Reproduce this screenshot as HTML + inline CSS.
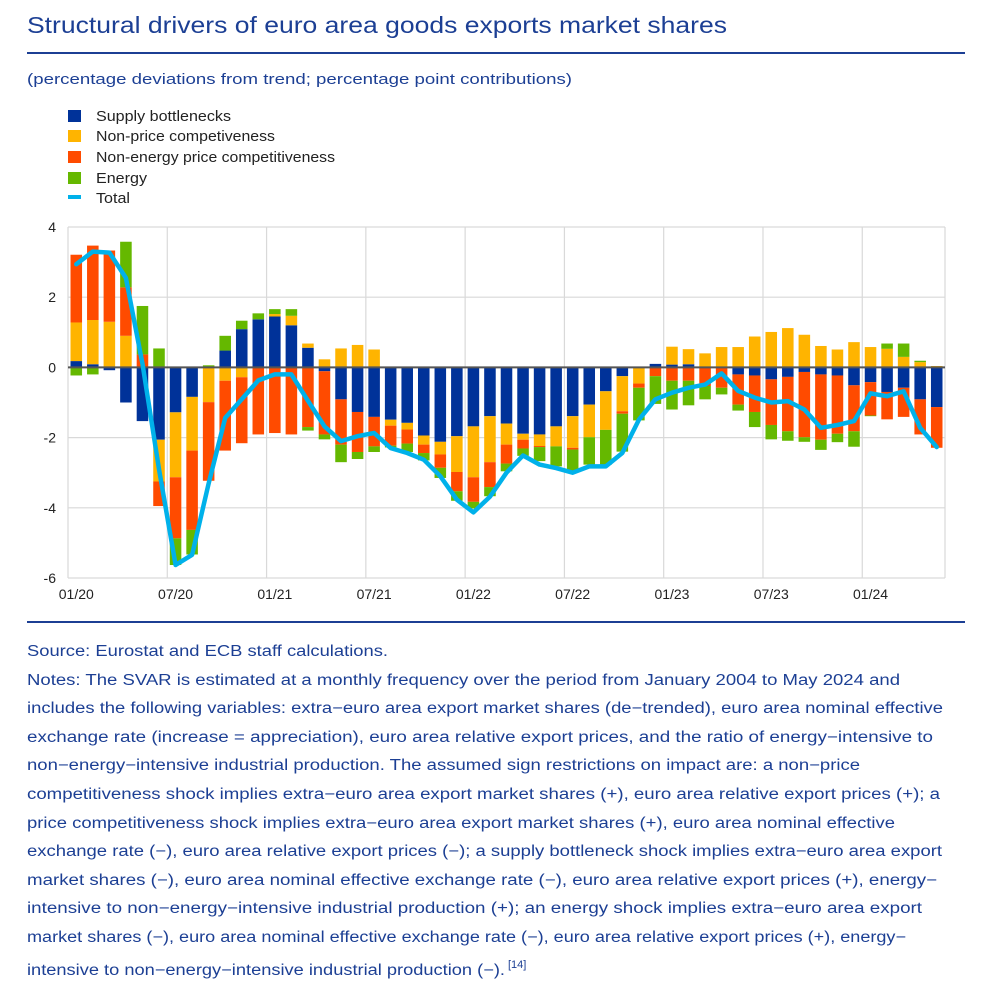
<!DOCTYPE html>
<html><head><meta charset="utf-8"><style>
html,body{margin:0;padding:0;background:#fff;width:1002px;height:1003px;overflow:hidden}
svg{display:block;font-family:"Liberation Sans",Arial,sans-serif}
</style></head><body>
<svg id="c" width="1002" height="1003" viewBox="0 0 1002 1003" xmlns="http://www.w3.org/2000/svg">
<text x="27" y="33" font-size="23" fill="#1c3f94" textLength="700" lengthAdjust="spacingAndGlyphs">Structural drivers of euro area goods exports market shares</text>
<rect x="27" y="52" width="938" height="2" fill="#1c3f94"/>
<text x="27" y="84" font-size="15" fill="#1c3f94" textLength="545" lengthAdjust="spacingAndGlyphs">(percentage deviations from trend; percentage point contributions)</text>
<g id="legend" font-size="15" fill="#222">
<g><rect x="68" y="110" width="13" height="12" fill="#003299"/><text x="96" y="121" textLength="135" lengthAdjust="spacingAndGlyphs">Supply bottlenecks</text></g>
<g><rect x="68" y="130" width="13" height="12" fill="#ffb400"/><text x="96" y="141" textLength="179" lengthAdjust="spacingAndGlyphs">Non-price competiveness</text></g>
<g><rect x="68" y="151" width="13" height="12" fill="#ff4b00"/><text x="96" y="162" textLength="239" lengthAdjust="spacingAndGlyphs">Non-energy price competitiveness</text></g>
<g><rect x="68" y="172" width="13" height="12" fill="#65b800"/><text x="96" y="183" textLength="51" lengthAdjust="spacingAndGlyphs">Energy</text></g>
<g><rect x="68" y="195" width="13" height="4" fill="#00b1ea"/><text x="96" y="203" textLength="34" lengthAdjust="spacingAndGlyphs">Total</text></g>
</g>
<g id="grid"></g>
<g id="bars"></g>
<g id="axes"></g>
<rect x="27" y="621" width="938" height="2" fill="#1c3f94"/>
<g font-size="15.5" fill="#1c3f94">
<text x="27" y="656" textLength="361" lengthAdjust="spacingAndGlyphs">Source: Eurostat and ECB staff calculations.</text>
<text x="27" y="685" textLength="873" lengthAdjust="spacingAndGlyphs">Notes: The SVAR is estimated at a monthly frequency over the period from January 2004 to May 2024 and</text>
<text x="27" y="713" textLength="916" lengthAdjust="spacingAndGlyphs">includes the following variables: extra−euro area export market shares (de−trended), euro area nominal effective</text>
<text x="27" y="742" textLength="906" lengthAdjust="spacingAndGlyphs">exchange rate (increase = appreciation), euro area relative export prices, and the ratio of energy−intensive to</text>
<text x="27" y="770" textLength="833" lengthAdjust="spacingAndGlyphs">non−energy−intensive industrial production. The assumed sign restrictions on impact are: a non−price</text>
<text x="27" y="799" textLength="913" lengthAdjust="spacingAndGlyphs">competitiveness shock implies extra−euro area export market shares (+), euro area relative export prices (+); a</text>
<text x="27" y="828" textLength="868" lengthAdjust="spacingAndGlyphs">price competitiveness shock implies extra−euro area export market shares (+), euro area nominal effective</text>
<text x="27" y="856" textLength="915" lengthAdjust="spacingAndGlyphs">exchange rate (−), euro area relative export prices (−); a supply bottleneck shock implies extra−euro area export</text>
<text x="27" y="885" textLength="910" lengthAdjust="spacingAndGlyphs">market shares (−), euro area nominal effective exchange rate (−), euro area relative export prices (+), energy−</text>
<text x="27" y="913" textLength="895" lengthAdjust="spacingAndGlyphs">intensive to non−energy−intensive industrial production (+); an energy shock implies extra−euro area export</text>
<text x="27" y="942" textLength="879" lengthAdjust="spacingAndGlyphs">market shares (−), euro area nominal effective exchange rate (−), euro area relative export prices (+), energy−</text>
<text x="27" y="975" textLength="478" lengthAdjust="spacingAndGlyphs">intensive to non−energy−intensive industrial production (−).</text>
<text x="508" y="968" font-size="11">[14]</text>
</g>
</svg>
<script>
const months = ["01/20","02/20","03/20","04/20","05/20","06/20","07/20","08/20","09/20","10/20","11/20","12/20","01/21","02/21","03/21","04/21","05/21","06/21","07/21","08/21","09/21","10/21","11/21","12/21","01/22","02/22","03/22","04/22","05/22","06/22","07/22","08/22","09/22","10/22","11/22","12/22","01/23","02/23","03/23","04/23","05/23","06/23","07/23","08/23","09/23","10/23","11/23","12/23","01/24","02/24","03/24","04/24","05/24"];
const supply = [0.18,0.09,-0.08,-1.0,-1.53,-2.06,-1.28,-0.84,0,0.48,1.09,1.37,1.45,1.2,0.56,-0.11,-0.91,-1.27,-1.41,-1.49,-1.58,-1.94,-2.12,-1.96,-1.68,-1.39,-1.6,-1.89,-1.91,-1.68,-1.39,-1.06,-0.68,-0.25,0,0.1,0.08,0.09,0,0,-0.2,-0.23,-0.34,-0.27,-0.13,-0.2,-0.23,-0.51,-0.42,-0.7,-0.58,-0.91,-1.13];
const nonPrice = [1.1,1.26,1.3,0.9,0,-1.19,-1.85,-1.53,-0.99,-0.38,-0.28,0,0.07,0.27,0.12,0.23,0.54,0.64,0.51,-0.17,-0.19,-0.26,-0.36,-1.02,-1.45,-1.31,-0.6,-0.17,-0.33,-0.57,-0.9,-0.93,-1.1,-1.0,-0.46,0,0.51,0.43,0.4,0.58,0.58,0.88,1.01,1.12,0.93,0.61,0.51,0.72,0.58,0.53,0.3,0.15,0.04];
const price = [1.93,2.12,2.03,1.38,0.37,-0.7,-1.74,-2.26,-2.24,-1.99,-1.88,-1.91,-1.87,-1.91,-1.7,-1.8,-1.29,-1.14,-0.84,-0.57,-0.4,-0.24,-0.38,-0.55,-0.7,-0.71,-0.54,-0.25,-0.03,0,-0.05,0,0,-0.07,-0.12,-0.25,-0.38,-0.38,-0.53,-0.58,-0.86,-1.04,-1.3,-1.55,-1.86,-1.86,-1.66,-1.31,-0.95,-0.78,-0.83,-1.0,-1.16];
const energy = [-0.23,-0.2,0,1.3,1.38,0.54,-0.76,-0.7,0.06,0.42,0.24,0.17,0.14,0.19,-0.1,-0.14,-0.5,-0.2,-0.16,-0.05,-0.24,-0.21,-0.29,-0.27,-0.19,-0.26,-0.22,-0.21,-0.4,-0.57,-0.62,-0.78,-1.0,-1.08,-0.93,-0.79,-0.82,-0.7,-0.38,-0.19,-0.17,-0.43,-0.41,-0.27,-0.13,-0.29,-0.24,-0.44,-0.02,0.15,0.38,0.04,0];
const total = [2.94,3.3,3.27,2.55,0.1,-2.9,-5.63,-5.34,-3.3,-1.44,-0.91,-0.37,-0.2,-0.2,-0.95,-1.68,-2.1,-1.96,-1.87,-2.3,-2.44,-2.63,-3.1,-3.77,-4.13,-3.68,-3.0,-2.51,-2.77,-2.87,-3.0,-2.82,-2.82,-2.44,-1.49,-0.91,-0.72,-0.58,-0.49,-0.17,-0.67,-0.86,-1.0,-0.96,-1.2,-1.72,-1.64,-1.53,-0.74,-0.82,-0.68,-1.72,-2.27];
const yTicks = [4,2,0,-2,-4,-6];
const xTickLabels = ["01/20","07/20","01/21","07/21","01/22","07/22","01/23","07/23","01/24"];

const NS="http://www.w3.org/2000/svg";
const X0=68, X1=945, YT=227, YB=578, YMAX=4, YMIN=-6;
const bw=(X1-X0)/months.length;
function xs(i){return X0+i*bw;}
function ys(v){return YT+(YMAX-v)*(YB-YT)/(YMAX-YMIN);}
function mk(tag,attrs,parent){const e=document.createElementNS(NS,tag);for(const k in attrs)e.setAttribute(k,attrs[k]);parent.appendChild(e);return e;}
const grid=document.getElementById('grid'),bars=document.getElementById('bars'),axes=document.getElementById('axes');
yTicks.forEach(t=>{
  const l=mk('line',{x1:X0,x2:X1,y1:ys(t),y2:ys(t),stroke:'#d9d9d9','stroke-width':1.2},grid);
  
  
  const tx=mk('text',{x:56,y:ys(t)+5,'font-size':14,'text-anchor':'end',fill:'#222'},axes);
  tx.textContent=String(t);
  
  
});
xTickLabels.forEach(lab=>{
  const i=months.indexOf(lab);
  const l=mk('line',{x1:xs(i),x2:xs(i),y1:YT,y2:YB,stroke:'#d9d9d9','stroke-width':1.2},grid);
  
  
  const tx=mk('text',{x:xs(i)+bw/2,y:599,'font-size':14,'text-anchor':'middle',fill:'#222'},axes);
  tx.textContent=lab;
  
  
});
mk('line',{x1:X1,x2:X1,y1:YT,y2:YB,stroke:'#d9d9d9','stroke-width':1.2},grid);
const series=[[supply,'#003299','supply'],[nonPrice,'#ffb400','nonprice'],[price,'#ff4b00','price'],[energy,'#65b800','energy']];
months.forEach((m,i)=>{
  let pos=0,neg=0;
  series.forEach(([arr,col,nm])=>{
    const v=arr[i]; if(!v) return;
    let a,b;
    if(v>0){a=pos;b=pos+v;pos=b;}else{a=neg;b=neg+v;neg=b;}
    const y1=ys(Math.max(a,b)),y2=ys(Math.min(a,b));
    const r=mk('rect',{x:xs(i)+2.5,y:y1,width:bw-5,height:Math.max(0.5,y2-y1),fill:col},bars);
    
    
  });
});
const z=mk('line',{x1:X0,x2:X1,y1:ys(0),y2:ys(0),stroke:'#555','stroke-width':2},axes);


const pts=total.map((v,i)=>(xs(i)+bw/2).toFixed(1)+','+ys(v).toFixed(1)).join(' ');
const pl=mk('polyline',{points:pts,fill:'none',stroke:'#00b1ea','stroke-width':4.5,'stroke-linejoin':'round','stroke-linecap':'round'},axes);


</script>
</body></html>
